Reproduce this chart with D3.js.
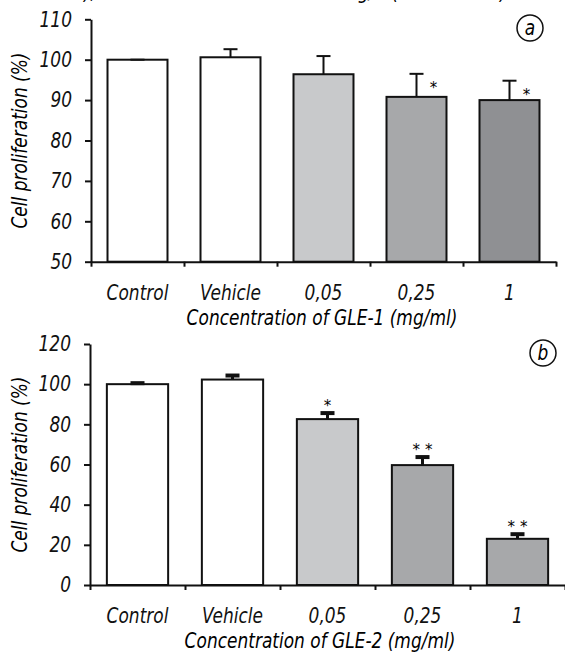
<!DOCTYPE html>
<html>
<head>
<meta charset="utf-8">
<script src="https://cdn.jsdelivr.net/npm/d3@7"></script>
<style>
    body { margin: 0; background: #fff; }
    svg text { font-family: "Liberation Sans Narrow", "DejaVu Sans Condensed", sans-serif; font-style: italic; }
</style>
</head>
<body>
<div id="chart"></div>
<script>
// categories shared by both panels
var categories = ["Control", "Vehicle", "0,05", "0,25", "1"]

// panel a (GLE-1)
var meansA = [100, 100.6, 96.4, 90.8, 90.0]
var errorsA = [0, 2, 4.5, 5.7, 4.8]
var starsA = ["", "", "", "*", "*"]
var ticksA = [50, 60, 70, 80, 90, 100, 110]

// panel b (GLE-2)
var meansB = [100, 102.3, 82.6, 59.7, 23]
var errorsB = [0.5, 2, 3, 4, 2.3]
var starsB = ["", "", "*", "* *", "* *"]
var ticksB = [0, 20, 40, 60, 80, 100, 120]

var FS = 21       // font size of the labels
var SQUEEZE = 0.9 // the original font is a narrow one

var svg = d3.select("#chart")
    .append("svg")
    .attr("width", 565)
    .attr("height", 656)

// bits of the caption above, cut off by the crop
svg.append("text").attr("x", 84).attr("y", -1).attr("font-size", FS).text("),")
svg.append("text").attr("x", 358).attr("y", -1).attr("font-size", FS).text("g/")
svg.append("text").attr("x", 392).attr("y", -1).attr("font-size", FS).text("(")
svg.append("text").attr("x", 500).attr("y", -1).attr("font-size", FS).text(")")

/**
 * This function is for drawing one bar panel
 * @param {object} p - settings of the panel
 */
function drawPanel(p) {
    var y = d3.scaleLinear().domain(p.domain).range([p.bottom, p.top])
    var x = d3.scaleBand().domain(categories).range([p.left, p.right])
        .paddingInner(0.355).paddingOuter(0.1775)
    var edges = d3.scaleLinear().domain([0, categories.length]).range([p.left, p.right])

    var g = svg.append("g")

    // bars
    g.selectAll("rect.bar")
        .data(categories)
        .enter()
        .append("rect")
        .attr("class", "bar")
        .attr("x", function (d) { return x(d) })
        .attr("width", x.bandwidth())
        .attr("y", function (d, i) { return y(p.means[i]) })
        .attr("height", function (d, i) { return p.bottom - y(p.means[i]) })
        .attr("fill", function (d, i) { return p.colors[i] })
        .attr("stroke", "#111")
        .attr("stroke-width", 2)

    // error bars
    var capW = 14
    categories.forEach(function (d, i) {
        var cx = x(d) + x.bandwidth() / 2
        var yTop = y(p.means[i] + p.errors[i])
        g.append("line")
            .attr("x1", cx).attr("x2", cx)
            .attr("y1", y(p.means[i])).attr("y2", yTop)
            .attr("stroke", "#111").attr("stroke-width", p.errWidth)
        g.append("line")
            .attr("x1", cx - capW / 2).attr("x2", cx + capW / 2)
            .attr("y1", yTop).attr("y2", yTop)
            .attr("stroke", "#111").attr("stroke-width", p.capWidth)
        if (p.stars[i]) {
            g.append("text")
                .attr("class", "star")
                .attr("x", cx + p.starDx)
                .attr("y", yTop + p.starDy)
                .attr("text-anchor", "middle")
                .attr("font-size", 15)
                .style("font-style", "normal")
                .style("font-family", "DejaVu Sans, sans-serif")
                .text(p.stars[i])
        }
    })

    // y axis
    g.append("g")
        .attr("transform", "translate(" + p.left + ",0)")
        .call(d3.axisLeft(y).tickValues(p.ticks).tickSize(6).tickPadding(13).tickSizeOuter(0))
        .selectAll("text").attr("font-size", FS).attr("fill", "#111")

    // x axis with ticks between the groups
    g.append("g")
        .attr("transform", "translate(0," + p.bottom + ")")
        .call(d3.axisBottom(edges).tickValues(d3.range(categories.length + 1))
            .tickSize(5).tickSizeOuter(0).tickFormat(""))
    g.append("g")
        .attr("transform", "translate(0," + p.bottom + ")")
        .call(d3.axisBottom(x).tickSize(0).tickPadding(23))
        .call(function (a) { a.select(".domain").remove() })
        .selectAll("text").attr("font-size", FS).attr("fill", "#111")

    g.selectAll(".domain, .tick line").attr("stroke", "#111").attr("stroke-width", 2)

    // axis titles
    g.append("text")
        .attr("transform", "translate(" + 27 + "," + (p.top + p.bottom) / 2 + ") rotate(-90)")
        .attr("text-anchor", "middle")
        .attr("font-size", FS)
        .text("Cell proliferation (%)")
    g.append("text")
        .attr("x", p.titleX)
        .attr("y", p.bottom + 63)
        .attr("text-anchor", "middle")
        .attr("font-size", FS)
        .text(p.title)

    // panel letter
    g.append("circle")
        .attr("cx", p.letterX).attr("cy", p.letterY).attr("r", 13)
        .attr("fill", "none").attr("stroke", "#111").attr("stroke-width", 1.5)
    g.append("text")
        .attr("x", p.letterX).attr("y", p.letterY + 7)
        .attr("text-anchor", "middle")
        .attr("font-size", FS)
        .text(p.letter)
}

drawPanel({
    domain: [50, 110], ticks: ticksA, top: 19.3, bottom: 261.7, left: 91, right: 556,
    means: meansA, errors: errorsA, stars: starsA,
    colors: ["#ffffff", "#ffffff", "#c8c9cb", "#a7a8aa", "#8f9093"],
    errWidth: 2, capWidth: 2, starDx: 17, starDy: 19,
    title: "Concentration of GLE-1 (mg/ml)", titleX: 322,
    letter: "a", letterX: 530, letterY: 28
})

drawPanel({
    domain: [0, 120], ticks: ticksB, top: 344, bottom: 585, left: 90, right: 565,
    means: meansB, errors: errorsB, stars: starsB,
    colors: ["#ffffff", "#ffffff", "#c8c9cb", "#a7a8aa", "#a7a8aa"],
    errWidth: 3, capWidth: 4, starDx: 0, starDy: -2,
    title: "Concentration of GLE-2 (mg/ml)", titleX: 320,
    letter: "b", letterX: 543, letterY: 353
})

// squeeze every label sideways, keeping its anchor point in place
svg.selectAll("text:not(.star)").each(function () {
    var t = d3.select(this)
    var x0 = +t.attr("x") || 0
    var tr = t.attr("transform") || ""
    t.attr("x", x0 / SQUEEZE).attr("transform", tr + " scale(" + SQUEEZE + ",1)")
})
</script>
</body>
</html>
